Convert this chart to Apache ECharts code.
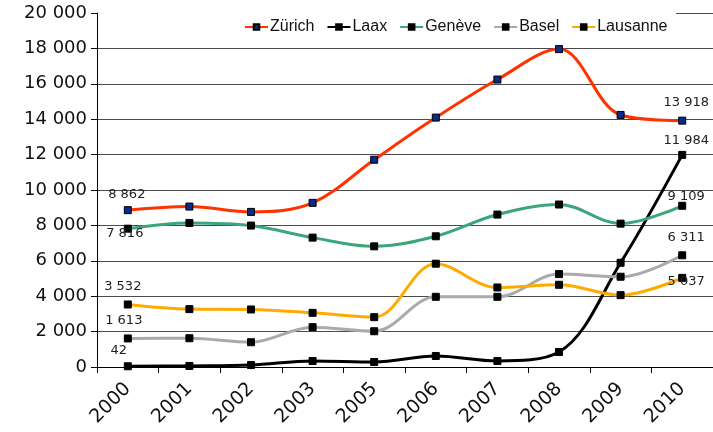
<!DOCTYPE html>
<html>
<head>
<meta charset="utf-8">
<script src="https://cdn.jsdelivr.net/npm/echarts@6/dist/echarts.min.js"></script>
<style>html,body{margin:0;padding:0;background:#fff;}#c{width:713px;height:432px;}</style>
</head>
<body>
<div id="c"></div>
<script>
const categories = ['2000','2001','2002','2003','2005','2006','2007','2008','2009','2010'];
const zurich   = [8862, 9065, 8763, 9275, 11710, 14090, 16240, 17960, 14240, 13918];
const laax     = [42, 60, 110, 340, 283, 623, 340, 850, 5890, 11984];
const geneve   = [7816, 8140, 7990, 7310, 6817, 7385, 8612, 9180, 8100, 9109];
const basel    = [1613, 1625, 1400, 2250, 2020, 3966, 3966, 5250, 5100, 6311];
const lausanne = [3532, 3270, 3250, 3060, 2815, 5836, 4493, 4646, 4060, 5037];

const fmt = v => String(v).replace(/\B(?=(\d{3})+(?!\d))/g, ' ');
const FONT = '"DejaVu Sans", Verdana, sans-serif';

// label offsets for first / last point [dx, dy]
const labelOffsets = {
  'Zürich':   [[-1, 0], [4, -3]],
  'Laax':     [[-9, 0], [4, 1]],
  'Genève':   [[-3, 20], [4, 6]],
  'Basel':    [[-4, -2], [4, -2]],
  'Lausanne': [[-5, -2], [4, 19]]
};

function build(name, values, color, markerColor) {
  const offs = labelOffsets[name];
  const data = values.map((v, i) => {
    if (i === 0 || i === values.length - 1) {
      const o = offs[i === 0 ? 0 : 1];
      return { value: v, label: { show: true, offset: o } };
    }
    return v;
  });
  return {
    name: name,
    type: 'line',
    smooth: 0.35,
    data: data,
    symbol: 'rect',
    symbolSize: 7,
    showAllSymbol: true,
    lineStyle: { color: color, width: 3 },
    itemStyle: { color: markerColor, borderColor: '#000', borderWidth: 1 },
    label: {
      show: false, position: 'top', distance: 5,
      formatter: p => fmt(p.value),
      color: '#222', fontFamily: FONT, fontSize: 13
    },
    emphasis: { disabled: true },
    animation: false
  };
}

const chart = echarts.init(document.getElementById('c'), null, { renderer: 'canvas' });
chart.setOption({
  backgroundColor: '#fff',
  animation: false,
  color: ['#ff3300', '#000000', '#3aa67a', '#aaaaaa', '#ffaa00'],
  legend: {
    left: 244, top: 19, padding: 0,
    itemWidth: 23, itemHeight: 7, itemGap: 12,
    textStyle: { fontFamily: '"Liberation Sans", Arial, sans-serif', fontSize: 16, color: '#111', padding: [0, 0, 0, -3] },
    data: ['Zürich', 'Laax', 'Genève', 'Basel', 'Lausanne']
  },
  grid: { left: 97, right: 0, top: 13, bottom: 65 },
  graphic: [{
    type: 'rect', z: 1,
    shape: { x: 98, y: 10, width: 578, height: 7 },
    style: { fill: '#fff' }
  }],
  xAxis: {
    type: 'category',
    data: categories,
    boundaryGap: true,
    axisLine: { lineStyle: { color: '#000', width: 1 } },
    axisTick: { show: true, length: 6, lineStyle: { color: '#000' } },
    axisLabel: { rotate: 45, margin: 19, fontFamily: FONT, fontSize: 19, color: '#111', interval: 0 },
    splitLine: { show: false }
  },
  yAxis: {
    type: 'value',
    min: 0, max: 20000, interval: 2000,
    axisLine: { show: true, lineStyle: { color: '#000', width: 1 } },
    axisTick: { show: true, inside: false, length: 6, lineStyle: { color: '#000' } },
    axisLabel: { formatter: v => fmt(v), fontFamily: FONT, fontSize: 18, color: '#111', margin: 10 },
    splitLine: { show: true, lineStyle: { color: '#4a4a4a', width: 1 } }
  },
  series: [
    build('Zürich', zurich, '#ff3300', '#0a2a8a'),
    build('Laax', laax, '#000000', '#000'),
    build('Genève', geneve, '#3aa67a', '#000'),
    build('Basel', basel, '#aaaaaa', '#000'),
    build('Lausanne', lausanne, '#ffaa00', '#000')
  ]
});
</script>
</body>
</html>
